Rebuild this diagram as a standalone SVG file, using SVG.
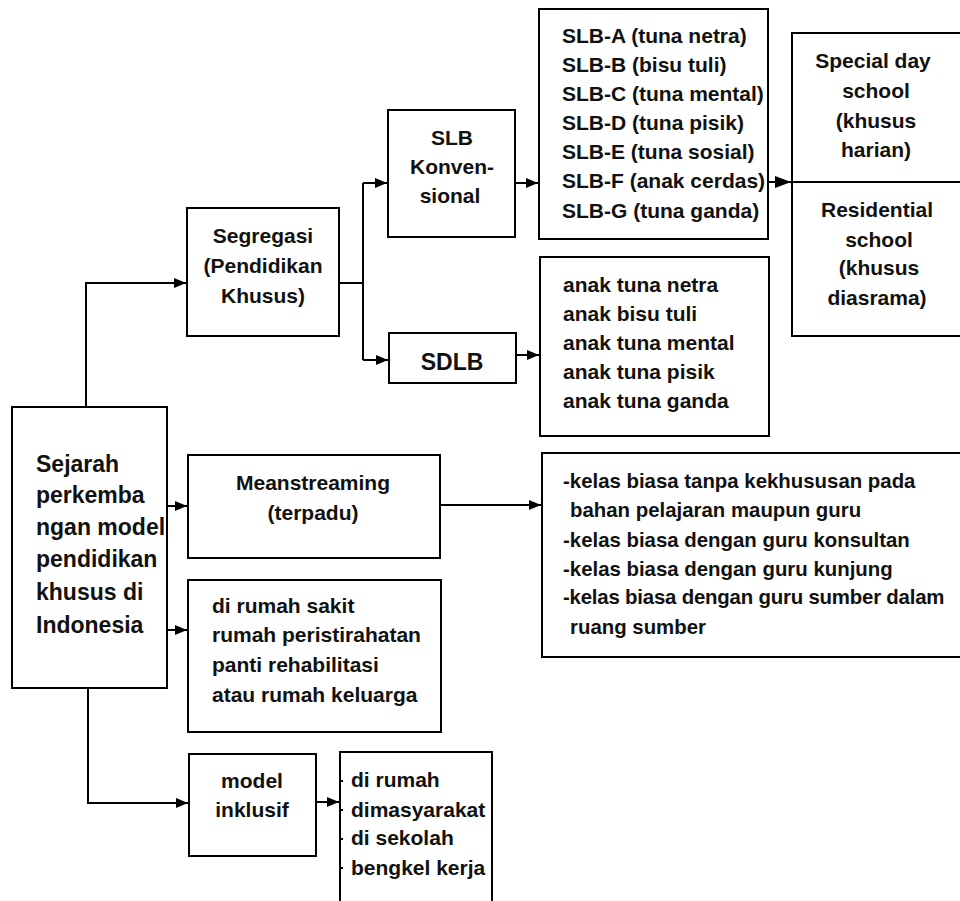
<svg xmlns="http://www.w3.org/2000/svg" width="960" height="901" viewBox="0 0 960 901">
<style>
.box{fill:#fff;stroke:#000;stroke-width:2}
.t{font-family:"Liberation Sans",Arial,sans-serif;font-weight:bold;font-size:21px;fill:#111}
.c{text-anchor:middle}
.big{font-size:23px}
.sm{font-size:20.4px}
.con{fill:none;stroke:#000;stroke-width:2}
</style>
<defs>
<marker id="ar" viewBox="0 0 12 10" refX="12" refY="5" markerWidth="12" markerHeight="10" markerUnits="userSpaceOnUse" orient="auto"><path d="M0,0 L12,5 L0,10 Z" fill="#000"/></marker>
<marker id="arb" viewBox="0 0 16 12" refX="16" refY="6" markerWidth="16" markerHeight="12" markerUnits="userSpaceOnUse" orient="auto"><path d="M0,0 L16,6 L0,12 Z" fill="#000"/></marker>
</defs>
<rect width="960" height="901" fill="#fff"/>
<g id="connectors">
<path class="con" d="M86,407 V283 H186" marker-end="url(#ar)"/>
<path class="con" d="M339,283 H363"/>
<path class="con" d="M363,183 V360"/>
<path class="con" d="M363,183 H387" marker-end="url(#ar)"/>
<path class="con" d="M363,360 H388" marker-end="url(#ar)"/>
<path class="con" d="M515,183 H538" marker-end="url(#ar)"/>
<path class="con" d="M768,182 H791" marker-end="url(#arb)"/>
<path class="con" d="M516,355 H539" marker-end="url(#ar)"/>
<path class="con" d="M163,506 H187" marker-end="url(#ar)"/>
<path class="con" d="M440,505 H541" marker-end="url(#ar)"/>
<path class="con" d="M163,630 H187" marker-end="url(#ar)"/>
<path class="con" d="M88,688 V803 H188" marker-end="url(#ar)"/>
<path class="con" d="M316,802 H339" marker-end="url(#ar)"/>
</g>
<g id="main">
<rect class="box" x="12" y="407" width="155" height="281"/>
<text class="t big" x="36" y="472">Sejarah</text>
<text class="t big" x="36" y="503">perkemba</text>
<text class="t big" x="36" y="535">ngan model</text>
<text class="t big" x="36" y="567">pendidikan</text>
<text class="t big" x="36" y="600">khusus di</text>
<text class="t big" x="36" y="633">Indonesia</text>
</g>
<g id="segregasi">
<rect class="box" x="187" y="208" width="152" height="128"/>
<text class="t c" x="263" y="243">Segregasi</text>
<text class="t c" x="263" y="273">(Pendidikan</text>
<text class="t c" x="263" y="303">Khusus)</text>
</g>
<g id="slb-konvensional">
<rect class="box" x="388" y="110" width="127" height="127"/>
<text class="t c" x="452" y="145">SLB</text>
<text class="t c" x="452" y="174">Konven-</text>
<text class="t c" x="450" y="203">sional</text>
</g>
<g id="sdlb">
<rect class="box" x="389" y="333" width="127" height="50"/>
<text class="t c big" x="452" y="370">SDLB</text>
</g>
<g id="slb-list">
<rect class="box" x="539" y="9" width="229" height="230"/>
<text class="t" x="562" y="43">SLB-A (tuna netra)</text>
<text class="t" x="562" y="72">SLB-B (bisu tuli)</text>
<text class="t" x="562" y="101">SLB-C (tuna mental)</text>
<text class="t" x="562" y="130">SLB-D (tuna pisik)</text>
<text class="t" x="562" y="159">SLB-E (tuna sosial)</text>
<text class="t" x="562" y="188">SLB-F (anak cerdas)</text>
<text class="t" x="562" y="218">SLB-G (tuna ganda)</text>
</g>
<g id="school-types">
<rect class="box" x="792" y="33" width="180" height="303"/>
<line x1="792" y1="182" x2="960" y2="182" stroke="#000" stroke-width="2"/>
<text class="t c" x="873" y="68">Special day</text>
<text class="t c" x="876" y="98">school</text>
<text class="t c" x="876" y="128">(khusus</text>
<text class="t c" x="876" y="157">harian)</text>
<text class="t c" x="877" y="217">Residential</text>
<text class="t c" x="879" y="247">school</text>
<text class="t c" x="879" y="275">(khusus</text>
<text class="t c" x="877" y="305">diasrama)</text>
</g>
<g id="sdlb-list">
<rect class="box" x="540" y="257" width="229" height="179"/>
<text class="t" x="563" y="292">anak tuna netra</text>
<text class="t" x="563" y="321">anak bisu tuli</text>
<text class="t" x="563" y="350">anak tuna mental</text>
<text class="t" x="563" y="379">anak tuna pisik</text>
<text class="t" x="563" y="408">anak tuna ganda</text>
</g>
<g id="meanstreaming">
<rect class="box" x="188" y="455" width="252" height="103"/>
<text class="t c" x="313" y="490">Meanstreaming</text>
<text class="t c" x="313" y="520">(terpadu)</text>
</g>
<g id="kelas-list">
<rect class="box" x="542" y="453" width="430" height="204"/>
<text class="t sm" x="563" y="488">-kelas biasa tanpa kekhususan pada</text>
<text class="t sm" x="570" y="517">bahan pelajaran maupun guru</text>
<text class="t sm" x="563" y="547">-kelas biasa dengan guru konsultan</text>
<text class="t sm" x="563" y="576">-kelas biasa dengan guru kunjung</text>
<text class="t sm" x="563" y="604" letter-spacing="-0.2">-kelas biasa dengan guru sumber dalam</text>
<text class="t sm" x="570" y="634">ruang sumber</text>
</g>
<g id="rumah-sakit">
<rect class="box" x="188" y="580" width="253" height="152"/>
<text class="t" x="212" y="613">di rumah sakit</text>
<text class="t" x="212" y="642">rumah peristirahatan</text>
<text class="t" x="212" y="672">panti rehabilitasi</text>
<text class="t" x="212" y="702">atau rumah keluarga</text>
</g>
<g id="model-inklusif">
<rect class="box" x="189" y="754" width="127" height="102"/>
<text class="t c" x="252" y="788">model</text>
<text class="t c" x="252" y="817">inklusif</text>
</g>
<g id="inklusif-list">
<rect class="box" x="340" y="752" width="152" height="170"/>
<g stroke="#000" stroke-width="2">
<line x1="340" y1="781" x2="343" y2="781"/>
<line x1="340" y1="810" x2="343" y2="810"/>
<line x1="340" y1="839" x2="343" y2="839"/>
<line x1="340" y1="868" x2="343" y2="868"/>
</g>
<text class="t" x="351" y="787">di rumah</text>
<text class="t" x="351" y="817">dimasyarakat</text>
<text class="t" x="351" y="845">di sekolah</text>
<text class="t" x="351" y="875">bengkel kerja</text>
</g>
</svg>
